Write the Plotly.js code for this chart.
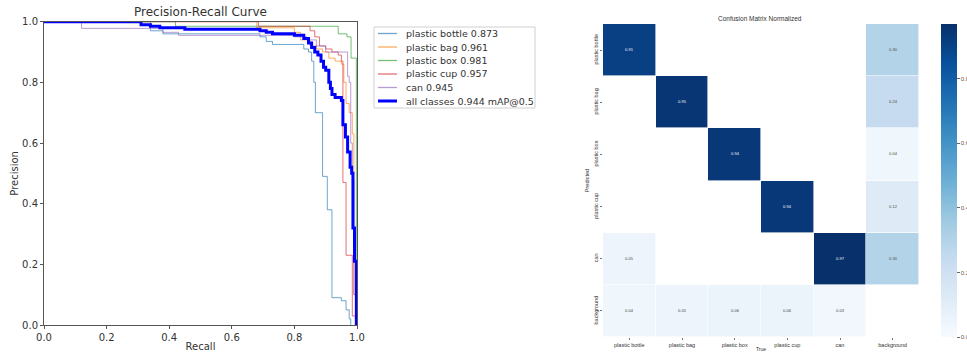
<!DOCTYPE html>
<html>
<head>
<meta charset="utf-8">
<script src="https://cdn.plot.ly/plotly-3.0.1.min.js"></script>
<style>html,body{margin:0;padding:0;background:#fff;}#chart{width:967px;height:354px;}</style>
</head>
<body>
<div id="chart"></div>
<script>
// ---- Precision-Recall data ----
const legendNames = ["plastic bottle 0.873","plastic bag 0.961","plastic box 0.981","plastic cup 0.957","can 0.945","all classes 0.944 mAP@0.5"];

const recallBottle    = [0, 0.34, 0.38, 0.69, 0.71, 0.73, 0.83, 0.845, 0.855, 0.862, 0.867, 0.89, 0.905, 0.92, 0.95, 0.965, 0.975, 0.98];
const precisionBottle = [1.0, 0.97, 0.96, 0.95, 0.935, 0.925, 0.91, 0.90, 0.87, 0.80, 0.70, 0.49, 0.38, 0.09, 0.08, 0.05, 0.02, 0.0];

const recallBag    = [0, 0.68, 0.80, 0.82, 0.85, 0.87, 0.89, 0.91, 0.93, 0.95, 0.958, 0.965, 0.975, 0.985, 0.99, 1.0];
const precisionBag = [1.0, 0.98, 0.965, 0.94, 0.92, 0.91, 0.90, 0.88, 0.87, 0.86, 0.80, 0.73, 0.70, 0.63, 0.10, 0.0];

const recallBox    = [0, 0.42, 0.94, 0.968, 0.981, 0.998];
const precisionBox = [1.0, 0.985, 0.96, 0.95, 0.88, 0.0];

const recallCup    = [0, 0.685, 0.85, 0.865, 0.88, 0.9, 0.92, 0.94, 0.95, 0.955, 0.965, 0.985, 0.995];
const precisionCup = [1.0, 0.985, 0.97, 0.95, 0.92, 0.91, 0.90, 0.89, 0.87, 0.47, 0.23, 0.03, 0.0];

const recallCan    = [0, 0.12, 0.38, 0.43, 0.80, 0.84, 0.87, 0.9, 0.97, 0.975, 0.98, 0.985, 0.99, 0.995, 1.0];
const precisionCan = [1.0, 0.978, 0.965, 0.955, 0.95, 0.94, 0.92, 0.90, 0.82, 0.80, 0.60, 0.48, 0.10, 0.02, 0.0];

const recallAll    = [0, 0.31, 0.34, 0.37, 0.45, 0.69, 0.71, 0.73, 0.80, 0.83, 0.845, 0.855, 0.865, 0.875, 0.885, 0.893, 0.9, 0.91, 0.915, 0.92, 0.93, 0.95, 0.955, 0.963, 0.97, 0.978, 0.983, 0.987, 0.992, 0.998];
const precisionAll = [1.0, 0.99, 0.985, 0.98, 0.975, 0.97, 0.965, 0.96, 0.955, 0.945, 0.93, 0.915, 0.90, 0.89, 0.87, 0.85, 0.84, 0.80, 0.78, 0.76, 0.75, 0.74, 0.66, 0.62, 0.57, 0.52, 0.50, 0.32, 0.21, 0.0];

// ---- Confusion matrix data (rows = Predicted, columns = True) ----
const cmClasses = ["plastic bottle","plastic bag","plastic box","plastic cup","can","background"];
const rowBottle     = [0.91, null, null, null, null, 0.30];
const rowBag        = [null, 0.95, null, null, null, 0.24];
const rowBox        = [null, null, 0.94, null, null, 0.04];
const rowCup        = [null, null, null, 0.94, null, 0.12];
const rowCan        = [0.05, null, null, null, 0.97, 0.30];
const rowBackground = [0.04, 0.05, 0.06, 0.06, 0.03, null];
const colorbarTicks = [0, 0.2, 0.4, 0.6, 0.8];

const W = 967, H = 354;
const px = v => v / W;
const py = v => (H - v) / H;

const font = "DejaVu Sans, Liberation Sans, sans-serif";
const font2 = "Liberation Sans, Arial, sans-serif";
const tab = ["#1f77b4","#ff7f0e","#2ca02c","#d62728","#9467bd"];
const recalls = [recallBottle, recallBag, recallBox, recallCup, recallCan];
const precisions = [precisionBottle, precisionBag, precisionBox, precisionCup, precisionCan];
const lineColors = tab.concat(["#0000ff"]);
const lineWidths = [1, 1, 1, 1, 1, 3];
const lineOpac = [0.65, 0.65, 0.65, 0.65, 0.65, 1];

const traces = [];
for (let i = 0; i < 5; i++) {
  traces.push({
    type: "scatter", mode: "lines", x: recalls[i], y: precisions[i],
    name: legendNames[i], line: {color: tab[i], width: 1, shape: "hv"},
    opacity: 0.65, xaxis: "x", yaxis: "y", hoverinfo: "skip", showlegend: false
  });
}
traces.push({
  type: "scatter", mode: "lines", x: recallAll, y: precisionAll,
  name: legendNames[5], line: {color: "#0000ff", width: 3, shape: "hv"},
  xaxis: "x", yaxis: "y", hoverinfo: "skip", showlegend: false
});

const blues = [[0,"#f7fbff"],[0.125,"#deebf7"],[0.25,"#c6dbef"],[0.375,"#9ecae1"],[0.5,"#6baed6"],[0.625,"#4292c6"],[0.75,"#2171b5"],[0.875,"#08519c"],[1,"#08306b"]];

traces.push({
  type: "heatmap", x: cmClasses, y: cmClasses,
  z: [rowBottle, rowBag, rowBox, rowCup, rowCan, rowBackground],
  colorscale: blues, zmin: 0, zmax: 0.97,
  xgap: 0.6, ygap: 0.6, showlegend: false, hoverinfo: "skip",
  texttemplate: "%{z:.2f}", textfont: {size: 4, family: font2},
  xaxis: "x2", yaxis: "y2",
  colorbar: {
    x: px(941), xanchor: "left", xref: "paper", xpad: 0, ypad: 0,
    y: py(24), yanchor: "top", yref: "paper",
    len: (337 - 24) / H, lenmode: "fraction",
    thickness: 16, outlinewidth: 0,
    ticks: "outside", ticklen: 3, tickcolor: "#666",
    tickvals: colorbarTicks, tickformat: ".1f",
    tickfont: {size: 6, color: "#555", family: font2}
  }
});

// custom compact legend (matplotlib style)
const shapes = [{
  type: "rect", xref: "paper", yref: "paper",
  x0: px(374), x1: px(535), y0: py(108), y1: py(27),
  line: {color: "#d0d0d0", width: 1}, fillcolor: "#fff", layer: "below"
}];
const annotations = [
  {text: "Precision-Recall Curve", xref: "paper", yref: "paper", x: px(200), y: py(12),
   xanchor: "center", yanchor: "middle", showarrow: false, font: {size: 12, color: "#333", family: font}},
  {text: "Confusion Matrix Normalized", xref: "paper", yref: "paper", x: px(760), y: py(18.5),
   xanchor: "center", yanchor: "middle", showarrow: false, font: {size: 6.5, color: "#333", family: font2}}
];
for (let i = 0; i < legendNames.length; i++) {
  const yy = 33.5 + i * 13.5;
  shapes.push({
    type: "line", xref: "paper", yref: "paper",
    x0: px(378), x1: px(397), y0: py(yy), y1: py(yy),
    line: {color: lineColors[i], width: lineWidths[i] === 1 ? 1.3 : 3}, opacity: lineOpac[i]
  });
  annotations.push({
    text: legendNames[i], xref: "paper", yref: "paper", x: px(404), y: py(yy),
    xanchor: "left", yanchor: "middle", showarrow: false,
    font: {size: 9.5, color: "#333", family: font}
  });
}

const layout = {
  width: W, height: H,
  margin: {l: 0, r: 0, t: 0, b: 0, autoexpand: false},
  paper_bgcolor: "#fff", plot_bgcolor: "rgba(0,0,0,0)",
  font: {family: font, color: "#333"},
  showlegend: false,
  xaxis: {
    domain: [px(44), px(357)], range: [0, 1], dtick: 0.2, tickformat: ".1f",
    showgrid: false, zeroline: false, showline: true, mirror: true,
    linecolor: "#555", linewidth: 1, ticks: "outside", ticklen: 3, tickcolor: "#555",
    tickfont: {size: 10, color: "#333"},
    title: {text: "Recall", font: {size: 10, color: "#333"}, standoff: 0},
    anchor: "y", fixedrange: true
  },
  yaxis: {
    domain: [py(325), py(21.7)], range: [0, 1], dtick: 0.2, tickformat: ".1f",
    showgrid: false, zeroline: false, showline: true, mirror: true,
    linecolor: "#555", linewidth: 1, ticks: "outside", ticklen: 3, tickcolor: "#555",
    tickfont: {size: 10, color: "#333"},
    title: {text: "Precision", font: {size: 10, color: "#333"}, standoff: 1},
    anchor: "x", fixedrange: true
  },
  xaxis2: {
    domain: [px(603), px(919)], type: "category", anchor: "y2",
    showgrid: false, zeroline: false, showline: false,
    ticks: "outside", ticklen: 2, tickcolor: "#777",
    tickfont: {size: 5.5, color: "#333", family: font2},
    title: {text: "True", font: {size: 5, color: "#333", family: font2}, standoff: 0},
    fixedrange: true
  },
  yaxis2: {
    domain: [py(337), py(24)], type: "category", anchor: "x2", autorange: "reversed",
    showgrid: false, zeroline: false, showline: false,
    ticks: "outside", ticklen: 2, tickcolor: "#777", tickangle: -90,
    tickfont: {size: 5.5, color: "#333", family: font2},
    title: {text: "Predicted", font: {size: 5.5, color: "#333", family: font2}, standoff: 2},
    fixedrange: true
  },
  shapes: shapes,
  annotations: annotations
};

Plotly.newPlot("chart", traces, layout, {displayModeBar: false, staticPlot: true});
</script>
</body>
</html>
